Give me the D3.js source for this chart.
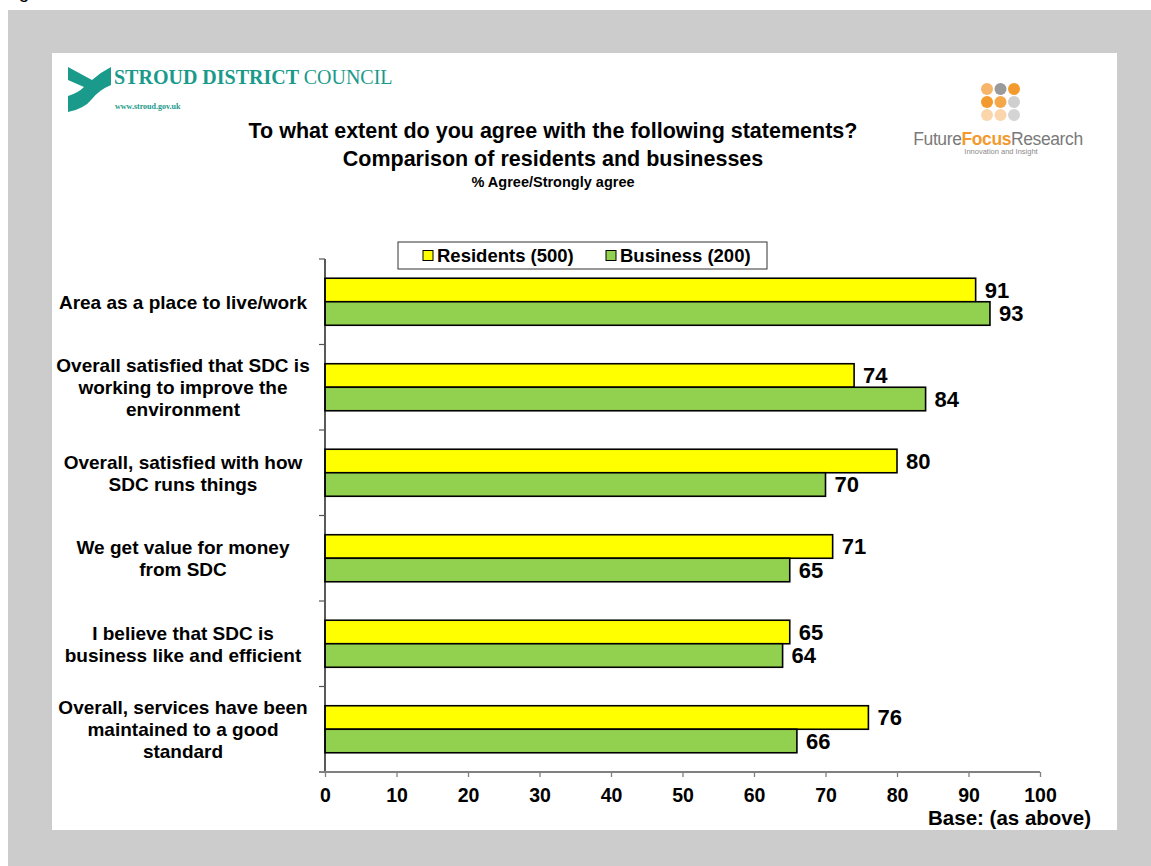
<!DOCTYPE html>
<html>
<head>
<meta charset="utf-8">
<script src="https://cdn.jsdelivr.net/npm/d3@7"></script>
<style>
  html, body { margin: 0; padding: 0; background: #ffffff; }
  svg { display: block; }
</style>
</head>
<body>
<svg id="chart" width="1151" height="866" font-family="'Liberation Sans', Arial, sans-serif"></svg>
<script>
// Survey statements (one entry per row, split into display lines)
const categories = [
  ["Area as a place to live/work"],
  ["Overall satisfied that SDC is", "working to improve the", "environment"],
  ["Overall, satisfied with how", "SDC runs things"],
  ["We get value for money", "from SDC"],
  ["I believe that SDC is", "business like and efficient"],
  ["Overall, services have been", "maintained to a good", "standard"]
];
const seriesNames = ["Residents (500)", "Business (200)"];
const residents = [91, 74, 80, 71, 65, 76];
const business = [93, 84, 70, 65, 64, 66];
const xTicks = [0, 10, 20, 30, 40, 50, 60, 70, 80, 90, 100];
const colors = ["#ffff00", "#92d050"];

const svg = d3.select("#chart");
const W = 1151, H = 866;

// Page backdrop
svg.append("rect").attr("x", 0).attr("y", 0).attr("width", W).attr("height", H).attr("fill", "#ffffff");
svg.append("text").attr("x", 3).attr("y", -2).attr("font-size", 19).attr("fill", "#000").text("Figure");
svg.append("rect").attr("x", 8).attr("y", 10).attr("width", W - 8).attr("height", H - 10).attr("fill", "#cccccc");
svg.append("rect").attr("x", 52).attr("y", 53).attr("width", 1065).attr("height", 777).attr("fill", "#ffffff");

// Council logo
const teal = "#1a9a8b";
const serif = "'Liberation Serif', 'DejaVu Serif', serif";
svg.append("path")
  .attr("d", "M68,67 L92,80 Q101,72 111,67 L111,85 Q99,90 92,99 Q84,109 68,112 L68,96 Q78,93 84,87 L68,80 Z")
  .attr("fill", teal);
const council = svg.append("text").attr("x", 114).attr("y", 84)
  .attr("font-family", serif).attr("fill", teal).attr("font-size", 20);
council.append("tspan").attr("font-weight", "bold").text("STROUD DISTRICT ");
council.append("tspan").text("COUNCIL");
svg.append("text").attr("x", 115).attr("y", 109)
  .attr("font-family", serif).attr("font-weight", "bold").attr("fill", teal).attr("font-size", 8)
  .text("www.stroud.gov.uk");

// Research agency logo
const dotColors = [
  ["#f7b56a", "#9a9a9a", "#f39a2e"],
  ["#f39a2e", "#f5a84a", "#cfcfcf"],
  ["#fbd6ad", "#fbd6ad", "#d4d4d4"]
];
dotColors.forEach((row, r) => row.forEach((c, k) => {
  svg.append("circle").attr("cx", 987 + k * 13.5).attr("cy", 89 + r * 13).attr("r", 6).attr("fill", c);
}));
const ffr = svg.append("text").attr("x", 998).attr("y", 145).attr("text-anchor", "middle")
  .attr("font-size", 17.5).attr("fill", "#7a7a7a").attr("letter-spacing", -0.4);
ffr.append("tspan").text("Future");
ffr.append("tspan").attr("font-weight", "bold").attr("fill", "#f39a2e").text("Focus");
ffr.append("tspan").text("Research");
svg.append("text").attr("x", 1001).attr("y", 154).attr("text-anchor", "middle")
  .attr("font-size", 7.5).attr("fill", "#8a8a8a")
  .text("Innovation and Insight");

// Titles
const titleX = 553;
svg.append("text").attr("x", titleX).attr("y", 138).attr("text-anchor", "middle")
  .attr("font-weight", "bold").attr("font-size", 21.5).text("To what extent do you agree with the following statements?");
svg.append("text").attr("x", titleX).attr("y", 166).attr("text-anchor", "middle")
  .attr("font-weight", "bold").attr("font-size", 21.5).text("Comparison of residents and businesses");
svg.append("text").attr("x", titleX).attr("y", 187).attr("text-anchor", "middle")
  .attr("font-weight", "bold").attr("font-size", 14.5).text("% Agree/Strongly agree");

// Plot geometry
const plot = { left: 325, right: 1040, top: 259, bottom: 772 };
const x = d3.scaleLinear().domain([0, 100]).range([plot.left, plot.right]);
const y = d3.scaleBand().domain(d3.range(categories.length))
  .range([plot.top, plot.bottom]).paddingInner(0.45).paddingOuter(0.225);
const inner = d3.scaleBand().domain([0, 1]).range([0, y.bandwidth()]);
const step = (plot.bottom - plot.top) / categories.length;

// Bars with value labels
const series = [residents, business];
series.forEach((vals, s) => {
  const g = svg.append("g");
  g.selectAll("rect").data(vals).join("rect")
    .attr("x", x(0))
    .attr("y", (d, i) => y(i) + inner(s))
    .attr("width", d => x(d) - x(0))
    .attr("height", inner.bandwidth())
    .attr("fill", colors[s])
    .attr("stroke", "#000").attr("stroke-width", 1.6);
  g.selectAll("text").data(vals).join("text")
    .attr("x", d => x(d) + 9)
    .attr("y", (d, i) => y(i) + inner(s) + inner.bandwidth() / 2)
    .attr("dy", "0.36em")
    .attr("font-weight", "bold").attr("font-size", 22)
    .text(d => d);
});

// Category axis: line plus boundary ticks
svg.append("line").attr("x1", plot.left).attr("x2", plot.left)
  .attr("y1", plot.top).attr("y2", plot.bottom).attr("stroke", "#000").attr("stroke-width", 1.3);
svg.append("g").selectAll("line").data(d3.range(categories.length))
  .join("line")
  .attr("x1", plot.left - 6).attr("x2", plot.left)
  .attr("y1", i => plot.top + i * step).attr("y2", i => plot.top + i * step)
  .attr("stroke", "#555").attr("stroke-width", 1.2);

// Category labels
categories.forEach((lines, i) => {
  const cy = y(i) + y.bandwidth() / 2;
  const lh = 22;
  const t = svg.append("text").attr("text-anchor", "middle").attr("font-weight", "bold").attr("font-size", 19);
  lines.forEach((ln, j) => {
    t.append("tspan").attr("x", 183)
      .attr("y", cy + (j - (lines.length - 1) / 2) * lh)
      .attr("dy", "0.36em").text(ln);
  });
});

// Value axis
const xAxis = d3.axisBottom(x).tickValues(xTicks).tickSize(5).tickSizeOuter(0).tickPadding(11);
const xg = svg.append("g").attr("transform", `translate(0,${plot.bottom})`).call(xAxis);
xg.select(".domain").attr("stroke", "#808080").attr("stroke-width", 2)
  .attr("d", `M${plot.left - 6},0H${plot.right}`);
xg.selectAll(".tick line").attr("stroke", "#808080").attr("stroke-width", 1.3);
xg.selectAll(".tick text").attr("font-family", "'Liberation Sans', Arial, sans-serif")
  .attr("font-weight", "bold").attr("font-size", 19.5).attr("fill", "#000");
svg.append("text").attr("x", 1091).attr("y", 825).attr("text-anchor", "end")
  .attr("font-weight", "bold").attr("font-size", 20.5).text("Base: (as above)");

// Legend
const legend = svg.append("g").attr("transform", "translate(398,242)");
legend.append("rect").attr("width", 369).attr("height", 27).attr("fill", "#fff")
  .attr("stroke", "#333").attr("stroke-width", 1);
const legendX = [25, 208];
seriesNames.forEach((name, s) => {
  legend.append("rect").attr("x", legendX[s]).attr("y", 8.5).attr("width", 10).attr("height", 10)
    .attr("fill", colors[s]).attr("stroke", "#000").attr("stroke-width", 1);
  legend.append("text").attr("x", legendX[s] + 14).attr("y", 13.5).attr("dy", "0.36em")
    .attr("font-weight", "bold").attr("font-size", 18.5).text(name);
});
</script>
</body>
</html>
